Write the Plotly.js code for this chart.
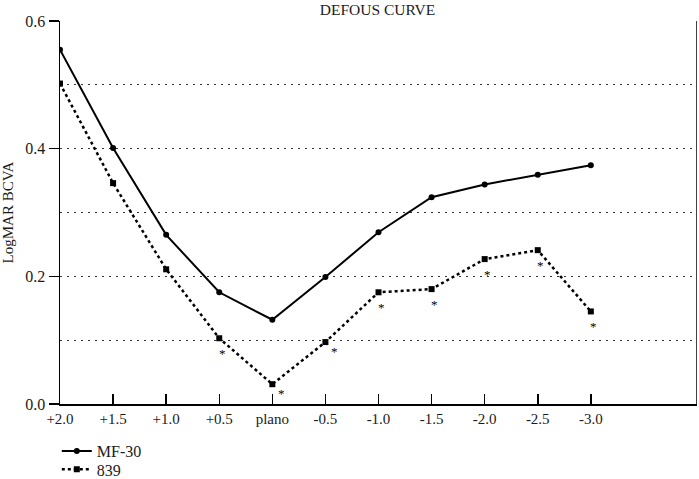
<!DOCTYPE html>
<html>
<head>
<meta charset="utf-8">
<script src="https://cdn.plot.ly/plotly-3.0.1.min.js"></script>
<style>html,body{margin:0;padding:0;background:#fff;}#chart{width:699px;height:479px;}</style>
</head>
<body>
<div id="chart"></div>
<script>
const categories = ["+2.0","+1.5","+1.0","+0.5","plano","-0.5","-1.0","-1.5","-2.0","-2.5","-3.0"];
const mf30 = [0.555,0.401,0.265,0.175,0.132,0.199,0.269,0.324,0.344,0.359,0.374];
const iol839 = [0.502,0.346,0.211,0.103,0.031,0.097,0.175,0.180,0.227,0.241,0.145];
const significant = [false,false,false,true,true,true,true,true,true,true,true];
const yTicks = [0,0.2,0.4,0.6];
const yTickLabels = ["0.0","0.2","0.4","0.6"];

const idx = categories.map((c,i)=>i);
const fam = "Liberation Serif, Times New Roman, serif";
const font = {family: fam, color: "#1a1a1a", size: 16};

const traces = [
  {x: idx, y: mf30, name: "MF-30", type: "scatter", mode: "lines+markers", legend: "legend",
   line: {color: "#000", width: 2}, marker: {symbol: "circle", size: 6, color: "#000"}},
  {x: idx, y: iol839, name: "839", type: "scatter", mode: "lines+markers", legend: "legend2",
   line: {color: "#000", width: 2.5, dash: "dot"}, marker: {symbol: "square", size: 6, color: "#000"}}
];

const annotations = [];
idx.forEach(i => {
  if (significant[i]) {
    annotations.push({x: i, y: iol839[i], xref: "x", yref: "y", text: "*", showarrow: false,
      xshift: (i===4||i===5) ? 9 : 3, yshift: (i===4||i===5) ? -9 : -15,
      font: {family: fam, size: 13, color: "#000"}});
  }
});

const legendBase = {xref: "paper", yref: "container", x: -0.005, xanchor: "left", yanchor: "middle",
  orientation: "v", font: {family: fam, size: 16, color: "#1a1a1a"},
  bgcolor: "rgba(0,0,0,0)", itemwidth: 30};

const layout = {
  width: 699, height: 479,
  margin: {l: 60, r: 2, t: 21, b: 75},
  paper_bgcolor: "#fff", plot_bgcolor: "#fff",
  font: font,
  title: {text: "DEFOUS CURVE", x: 0.54, xanchor: "center", y: 0.992, yanchor: "top",
          font: {family: fam, size: 15.5, color: "#1a1a1a"}},
  xaxis: {range: [0, 12], tickvals: idx, ticktext: categories, ticks: "inside", ticklen: 10,
          tickcolor: "#000", tickwidth: 1.5, showline: true, linecolor: "#000", linewidth: 1.5,
          showgrid: false, zeroline: false, fixedrange: true, tickfont: {family: fam, size: 15, color: "#1a1a1a"}},
  yaxis: {range: [0, 0.6], tickvals: yTicks, ticktext: yTickLabels, ticks: "outside", ticklen: 10,
          tickcolor: "#000", tickwidth: 1.5, showline: true, linecolor: "#000", linewidth: 1.5,
          showgrid: true, gridcolor: "#333", griddash: "2px,5px", gridwidth: 1, zeroline: false,
          minor: {tickvals: [0.1,0.3,0.5], showgrid: true, gridcolor: "#333", griddash: "2px,5px", gridwidth: 1},
          title: {text: "LogMAR BCVA", font: {family: fam, size: 15, color: "#1a1a1a"}, standoff: 10},
          tickfont: font},
  shapes: [{type: "line", xref: "x", yref: "y", x0: 12, x1: 12, y0: 0, y1: 0.6, line: {color: "#000", width: 1.5}}],
  annotations: annotations,
  showlegend: true,
  legend: Object.assign({}, legendBase, {y: 0.058}),
  legend2: Object.assign({}, legendBase, {y: 0.02})
};

Plotly.newPlot("chart", traces, layout, {displayModeBar: false, staticPlot: true});
</script>
</body>
</html>
